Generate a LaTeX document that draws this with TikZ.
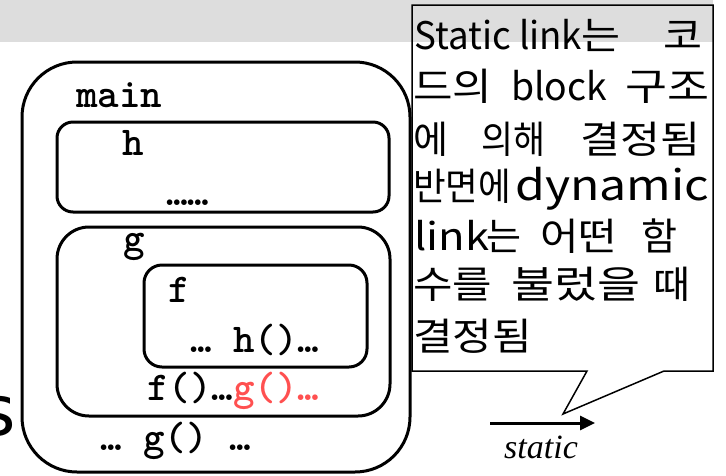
\documentclass[tikz,border=0pt]{standalone}
\usepackage{fontspec}
\usetikzlibrary{arrows.meta}
\setmainfont{Liberation Serif}
\newfontfamily\krfont{Noto Sans CJK KR}
\newfontfamily\titlefont{DejaVu Sans}
\definecolor{bandgray}{RGB}{221,221,221}
\definecolor{codered}{RGB}{255,80,80}
\tikzset{
  scopebox/.style={draw=black, line width=3pt},
  codetext/.style={anchor=base west, inner sep=0pt, font=\ttfamily\bfseries\fontsize{41}{41}\selectfont},
  calltext/.style={anchor=base west, inner sep=0pt, font=\krfont\fontsize{38}{38}\selectfont},
}
% piece of text at offset #1, stretched (font stretch) to width #2, size factor #3
\newsavebox\chunkbox
\newcommand{\chunkv}[4]{\begingroup
  \pgfmathsetmacro\chunkfs{38*#3}%
  \fontsize{\chunkfs}{38}\selectfont
  \sbox\chunkbox{#4}%
  \pgfmathsetmacro\chunksx{#2/\wd\chunkbox}%
  \edef\chunktmp{\noexpand\addfontfeatures{FakeStretch=\chunksx}}\chunktmp
  \makebox[0pt][l]{\hspace*{#1}#4}%
  \endgroup}
\newcommand{\chunk}[3]{\chunkv{#1}{#2}{1}{#3}}
\newcommand{\chunkn}[2]{\makebox[0pt][l]{\hspace*{#1}#2}}
\begin{document}
\begin{tikzpicture}[x=1pt,y=-1pt]
\useasboundingbox (0,0) rectangle (726,475);
% gray title band
\fill[bandgray] (0,0) rectangle (713,42);
% partial title letter
\node[anchor=base east, inner sep=0pt, font=\titlefont\fontsize{70}{70}\selectfont] (ttl) at (16,435) {s};
% scope boxes
\draw[scopebox, rounded corners=55pt] (22,62) rectangle (410,472);
\draw[scopebox, rounded corners=16pt] (57,122) rectangle (389,212);
\draw[scopebox, rounded corners=32pt] (57,227) rectangle (390,416);
\draw[scopebox, rounded corners=18pt] (144,265) rectangle (367,367);
% code text
\node[codetext] (tmain) at (76,107) {main};
\node[codetext] (th) at (122,155) {h};
\node[codetext] (tdots) at (166,205) {……};
\node[codetext] (tg) at (123,251) {g};
\node[codetext] (tf) at (168,302) {f};
\node[codetext] (tfh) at (190,352) {… h()…};
\node[codetext] (tfg) at (147,400) {f()…\textcolor{codered}{g()…}};
\node[codetext] (tmg) at (100,450) {… g() …};
% callout
\draw[line width=1.5pt] (412,5) -- (713,5) -- (713,371) -- (664,371) -- (563,414) -- (587,371) -- (412,371) -- cycle;
\begin{scope}[every node/.style={calltext}]
\node (l1) at (415,49) {\chunk{-1pt}{168pt}{Static link}%
  \chunk{166pt}{39pt}{는}\chunk{248pt}{39pt}{코}\hspace*{292pt}};
\node (l2) at (415,100) {\chunk{-2pt}{79pt}{드의}%
  \chunk{96pt}{96pt}{block}\chunk{210pt}{84pt}{구조}\hspace*{292pt}};
\node (l3) at (415,153) {\chunkn{-2pt}{에}%
  \chunk{66pt}{64pt}{의해}\chunk{165pt}{120pt}{결정됨}\hspace*{292pt}};
\node (l4) at (415,200) {\chunk{-2pt}{98pt}{반면에}%
  \chunkv{100pt}{194pt}{1.1}{dynamic}\hspace*{292pt}};
\node (l5) at (415,250) {\chunk{-1pt}{75pt}{link}%
  \chunk{71pt}{35pt}{는}\chunk{125pt}{77pt}{어떤}\chunk{226pt}{36pt}{함}\hspace*{292pt}};
\node (l6) at (415,298) {\chunk{-2pt}{79pt}{수를}%
  \chunk{96pt}{129pt}{불렀을}\chunk{238pt}{37pt}{때}\hspace*{292pt}};
\node (l7) at (415,350) {\chunk{-2pt}{119pt}{결정됨}\hspace*{292pt}};
\end{scope}
% static arrow
\coordinate (sa) at (490,423);
\coordinate (sb) at (595,423);
\draw[line width=3pt, -{Triangle[length=15pt,width=14pt]}] (sa) -- (sb);
\node[anchor=base, inner sep=0pt, font=\itshape\fontsize{34}{34}\selectfont] (lstatic) at (541,458) {static};
\end{tikzpicture}
\end{document}
